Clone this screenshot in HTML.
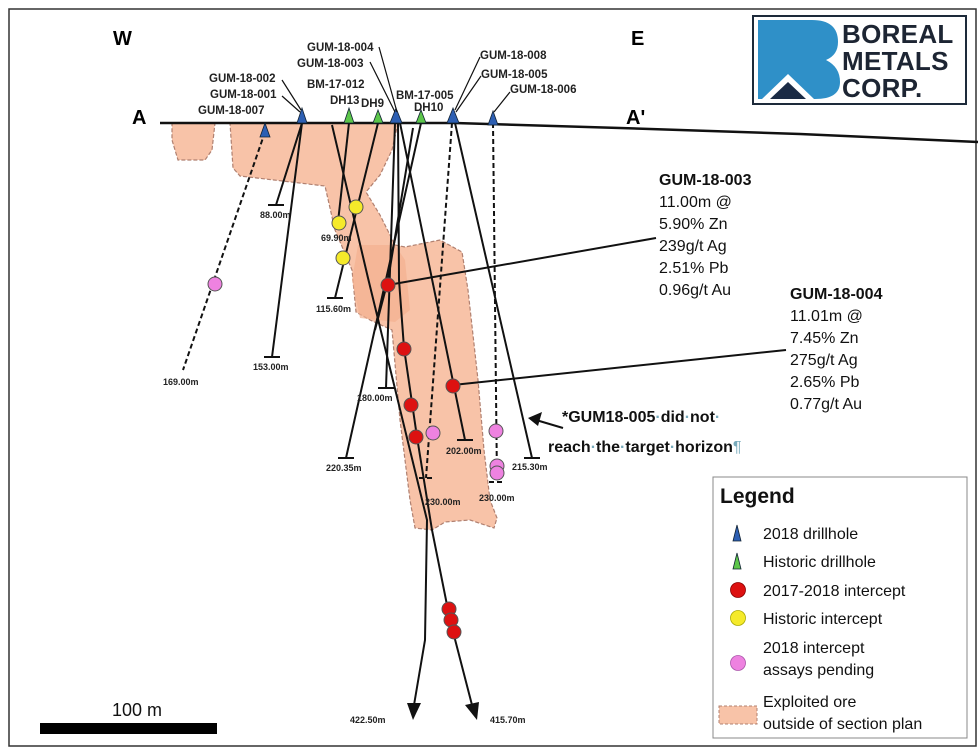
<!DOCTYPE html>
<html><head><meta charset="utf-8"><style>
html,body{margin:0;padding:0;background:#fff;}
svg{display:block;font-family:"Liberation Sans",Arial,sans-serif;}
.lb{font-size:11.5px;font-weight:bold;fill:#222;}
.dp{font-size:9px;font-weight:bold;fill:#222;}
.ln{stroke:#111;stroke-width:2;fill:none;}
.ds{stroke:#111;stroke-width:2;fill:none;stroke-dasharray:5,3;}
.ann{font-size:16px;fill:#111;}
.leg{font-size:16px;fill:#111;}
</style></head><body>
<svg width="980" height="754" viewBox="0 0 980 754" xmlns="http://www.w3.org/2000/svg">
<rect x="9" y="9" width="967" height="737" fill="#fff" stroke="#333" stroke-width="1.5"/>
<g fill="#f8c3a8" stroke="#b08070" stroke-width="1.2" stroke-dasharray="4,2">
<path d="M172,123 L215,123 L212,150 L205,160 L178,160 L172,140 Z"/>
<path d="M230,123 L398,123 L392,150 L380,175 L366,192 L380,215 L395,245 L405,247 L440,240 L462,252 L468,290 L478,380 L484,450 L490,500 L497,518 L494,528 L470,520 L445,522 L432,530 L415,528 L410,500 L400,420 L392,330 L370,320 L356,312 L352,270 L335,230 L325,186 L240,176 L233,168 Z"/>
</g>
<path d="M358,245 L395,245 L405,260 L410,310 L395,322 L360,318 L352,280 Z" fill="#f3b090" opacity="0.7"/>
<path d="M160,123 L455,123 L620,128 L800,134 L978,142" stroke="#111" stroke-width="2.5" fill="none"/>
<path class="ds" d="M265,132 L183,370"/>
<path class="ln" d="M302,123 L276,205 M268,205 L284,205"/>
<path class="ln" d="M302,123 L272,357 M264,357 L280,357"/>
<path class="ln" d="M349,123 L338,222"/>
<path class="ln" d="M378,123 L335,298 M327,298 L343,298"/>
<path class="ln" d="M332,125 L368,278 L427,520 L425,640 L414,705"/>
<path class="ln" d="M395,123 L386,388 M378,388 L394,388"/>
<path class="ln" d="M398,123 L399,280 L404,348 L417,437 L432,530 L450,620 L472,705"/>
<path class="ln" d="M400,123 L465,440 M457,440 L473,440"/>
<path class="ln" d="M413,128 L388,280 L375,330"/>
<path class="ln" d="M421,123 L346,458 M338,458 L354,458"/>
<path class="ds" d="M452,123 L426,478 M419,478 L435,478"/>
<path class="ln" d="M455,123 L532,458 M524,458 L540,458"/>
<path class="ds" d="M493,123 L497,482 M489,482 L505,482"/>
<polygon points="407,703 421,703 413,720" fill="#111"/>
<polygon points="465,705 479,702 477,720" fill="#111"/>
<path class="ln" stroke-width="1.5" d="M388,285 L656,238"/>
<path class="ln" stroke-width="1.5" d="M453,385 L786,350"/>
<path d="M563,428 L536,420" stroke="#111" stroke-width="2"/>
<polygon points="528,418 542,412 538,426" fill="#111"/>
<g stroke="#555" stroke-width="1">
<circle cx="215" cy="284" r="7" fill="#ee82e0"/>
<circle cx="339" cy="223" r="7" fill="#f5ea2a"/>
<circle cx="356" cy="207" r="7" fill="#f5ea2a"/>
<circle cx="343" cy="258" r="7" fill="#f5ea2a"/>
<circle cx="388" cy="285" r="7" fill="#dd1111"/>
<circle cx="404" cy="349" r="7" fill="#dd1111"/>
<circle cx="411" cy="405" r="7" fill="#dd1111"/>
<circle cx="416" cy="437" r="7" fill="#dd1111"/>
<circle cx="453" cy="386" r="7" fill="#dd1111"/>
<circle cx="433" cy="433" r="7" fill="#ee82e0"/>
<circle cx="496" cy="431" r="7" fill="#ee82e0"/>
<circle cx="497" cy="466" r="7" fill="#ee82e0"/>
<circle cx="497" cy="473" r="7" fill="#ee82e0"/>
<circle cx="449" cy="609" r="7" fill="#dd1111"/>
<circle cx="451" cy="620" r="7" fill="#dd1111"/>
<circle cx="454" cy="632" r="7" fill="#dd1111"/>
</g>
<g stroke="#123" stroke-width="0.8">
<polygon points="265,123 260,137 270,137" fill="#2d5fb3"/>
<polygon points="302,108 297,123 307,123" fill="#2d5fb3"/>
<polygon points="349,108 344,123 354,123" fill="#5cc64a"/>
<polygon points="378,110 373,123 383,123" fill="#5cc64a"/>
<polygon points="396,108 390,123 402,123" fill="#2d5fb3"/>
<polygon points="421,110 416,123 426,123" fill="#5cc64a"/>
<polygon points="453,108 447,123 459,123" fill="#2d5fb3"/>
<polygon points="493,111 488,125 498,125" fill="#2d5fb3"/>
</g>
<path stroke="#111" stroke-width="1.2" fill="none" d="M379,47 L397,112 M370,62 L395,112 M282,80 L301,110 M282,96 L300,112 M480,57 L455,110 M481,76 L456,112 M510,92 L494,112"/>
<text class="lb" x="307" y="51">GUM-18-004</text>
<text class="lb" x="297" y="67">GUM-18-003</text>
<text class="lb" x="209" y="82">GUM-18-002</text>
<text class="lb" x="210" y="98">GUM-18-001</text>
<text class="lb" x="198" y="114">GUM-18-007</text>
<text class="lb" x="307" y="88">BM-17-012</text>
<text class="lb" x="330" y="104">DH13</text>
<text class="lb" x="361" y="107">DH9</text>
<text class="lb" x="396" y="99">BM-17-005</text>
<text class="lb" x="414" y="111">DH10</text>
<text class="lb" x="480" y="59">GUM-18-008</text>
<text class="lb" x="481" y="78">GUM-18-005</text>
<text class="lb" x="510" y="93">GUM-18-006</text>
<text x="113" y="45" font-size="20" font-weight="bold">W</text>
<text x="631" y="45" font-size="20" font-weight="bold">E</text>
<text x="132" y="124" font-size="20" font-weight="bold">A</text>
<text x="626" y="124" font-size="20" font-weight="bold">A'</text>
<text class="dp" x="260" y="218">88.00m</text>
<text class="dp" x="321" y="241">69.90m</text>
<text class="dp" x="316" y="312">115.60m</text>
<text class="dp" x="163" y="385">169.00m</text>
<text class="dp" x="253" y="370">153.00m</text>
<text class="dp" x="357" y="401">180.00m</text>
<text class="dp" x="326" y="471">220.35m</text>
<text class="dp" x="446" y="454">202.00m</text>
<text class="dp" x="512" y="470">215.30m</text>
<text class="dp" x="425" y="505">230.00m</text>
<text class="dp" x="479" y="501">230.00m</text>
<text class="dp" x="350" y="723">422.50m</text>
<text class="dp" x="490" y="723">415.70m</text>
<text class="ann" x="659" y="185" font-weight="bold">GUM-18-003</text>
<text class="ann" x="659" y="207">11.00m @</text>
<text class="ann" x="659" y="229">5.90% Zn</text>
<text class="ann" x="659" y="251">239g/t Ag</text>
<text class="ann" x="659" y="273">2.51% Pb</text>
<text class="ann" x="659" y="295">0.96g/t Au</text>
<text class="ann" x="790" y="299" font-weight="bold">GUM-18-004</text>
<text class="ann" x="790" y="321">11.01m @</text>
<text class="ann" x="790" y="343">7.45% Zn</text>
<text class="ann" x="790" y="365">275g/t Ag</text>
<text class="ann" x="790" y="387">2.65% Pb</text>
<text class="ann" x="790" y="409">0.77g/t Au</text>
<text x="562" y="422" font-size="16" font-weight="bold" fill="#111">*GUM18-005<tspan fill="#7ab">·</tspan>did<tspan fill="#7ab">·</tspan>not<tspan fill="#7ab">·</tspan></text>
<text x="548" y="452" font-size="16" font-weight="bold" fill="#111">reach<tspan fill="#7ab">·</tspan>the<tspan fill="#7ab">·</tspan>target<tspan fill="#7ab">·</tspan>horizon<tspan fill="#7ab" font-weight="normal">¶</tspan></text>
<rect x="753" y="16" width="213" height="88" fill="#fff" stroke="#1d2a3a" stroke-width="2"/>
<path d="M758,20 L812,20 Q838,20 838,42 Q838,55 826,60 Q840,67 840,82 Q840,99 815,99 L805,99 L788,80 L771,99 L758,99 Z" fill="#2f90c8"/>
<polygon points="762,99 788,74 814,99" fill="#fff"/>
<polygon points="770,99 788,82 806,99" fill="#1b2b45"/>
<g font-size="26" fill="#1d2533" font-weight="bold" style="letter-spacing:0.3px">
<text x="842" y="43">BOREAL</text>
<text x="842" y="70">METALS</text>
<text x="842" y="97">CORP.</text>
</g>
<rect x="713" y="477" width="254" height="261" fill="#fff" stroke="#888" stroke-width="1"/>
<text x="720" y="503" font-size="21" font-weight="bold" fill="#111">Legend</text>
<polygon points="737,525 733,541 741,541" fill="#2d5fb3" stroke="#123" stroke-width="0.8"/>
<text class="leg" x="763" y="539">2018 drillhole</text>
<polygon points="737,553 733,569 741,569" fill="#5cc64a" stroke="#123" stroke-width="0.8"/>
<text class="leg" x="763" y="567">Historic drillhole</text>
<circle cx="738" cy="590" r="7.5" fill="#dd1111" stroke="#800" stroke-width="0.8"/>
<text class="leg" x="763" y="596">2017-2018 intercept</text>
<circle cx="738" cy="618" r="7.5" fill="#f5ea2a" stroke="#aa0" stroke-width="0.8"/>
<text class="leg" x="763" y="624">Historic intercept</text>
<circle cx="738" cy="663" r="7.5" fill="#ee82e0" stroke="#a5a" stroke-width="0.8"/>
<text class="leg" x="763" y="653">2018 intercept</text>
<text class="leg" x="763" y="675">assays pending</text>
<rect x="719" y="706" width="38" height="18" fill="#f8c3a8" stroke="#b08070" stroke-dasharray="3,2"/>
<text class="leg" x="763" y="707">Exploited ore</text>
<text class="leg" x="763" y="729">outside of section plan</text>
<text x="112" y="716" font-size="18" fill="#111">100 m</text>
<rect x="40" y="723" width="177" height="11" fill="#000"/>
</svg>
</body></html>
